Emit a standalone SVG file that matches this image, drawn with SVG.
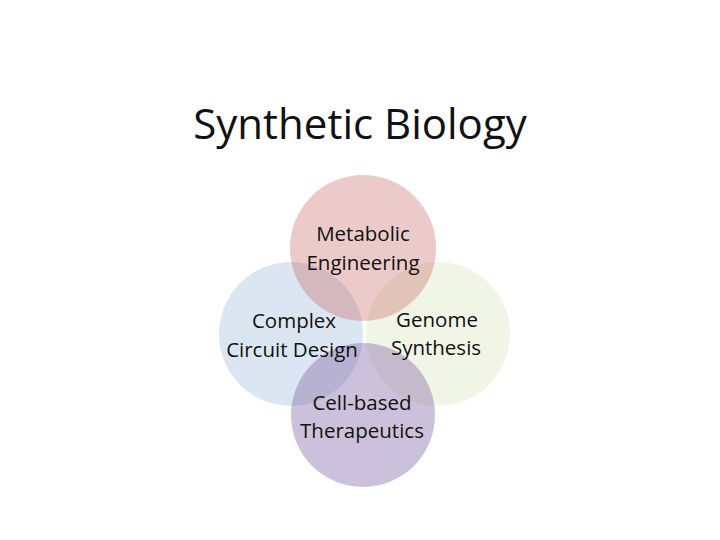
<svg xmlns="http://www.w3.org/2000/svg" width="720" height="540" viewBox="0 0 720 540">
<style>
text{font-family:"Open Sans","DejaVu Sans",sans-serif;fill:#111111;text-anchor:middle}
.t{font-size:42px}
.l{font-size:20.5px}
</style>
<rect width="720" height="540" fill="#ffffff"/>
<text class="t" x="360" y="139">Synthetic Biology</text>
<g id="left"><circle cx="291" cy="334" r="72" fill="#4F81BD" fill-opacity="0.2"/></g>
<g id="right"><circle cx="438" cy="334" r="72" fill="#9BBB59" fill-opacity="0.15"/></g>
<g id="top"><circle cx="363" cy="248" r="73" fill="#C0504D" fill-opacity="0.3"/></g>
<g id="bottom"><circle cx="363" cy="415" r="72" fill="#8064A2" fill-opacity="0.4"/></g>
<g id="labels">
<text class="l" x="363" y="241">Metabolic</text>
<text class="l" x="363" y="270">Engineering</text>
<text class="l" x="294" y="328">Complex</text>
<text class="l" x="292" y="357">Circuit Design</text>
<text class="l" x="437" y="327">Genome</text>
<text class="l" x="436" y="355">Synthesis</text>
<text class="l" x="362" y="410">Cell-based</text>
<text class="l" x="362" y="438">Therapeutics</text>
</g>
<g id="connectors"/>
</svg>
